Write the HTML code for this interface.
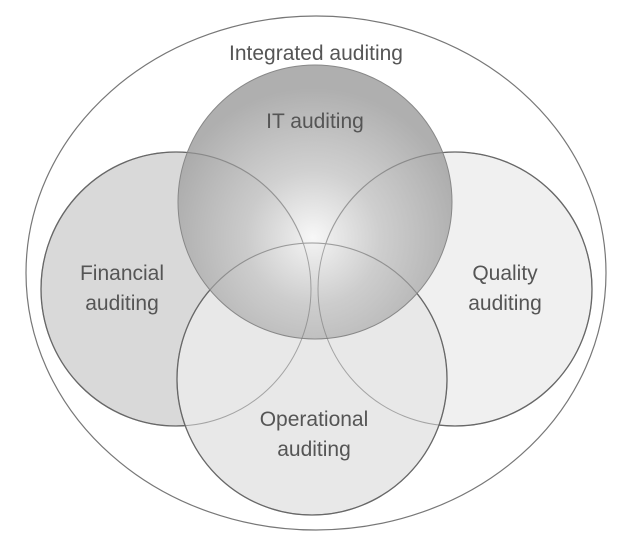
<!DOCTYPE html>
<html><head><style>html,body{margin:0;padding:0;background:#fff;}svg{display:block}</style></head>
<body>
<svg width="621" height="545" viewBox="0 0 621 545" xmlns="http://www.w3.org/2000/svg">
<defs>
<radialGradient id="g" gradientUnits="userSpaceOnUse" cx="313" cy="238" r="150">
<stop offset="0" stop-color="#f6f6f6" stop-opacity="0.85"/>
<stop offset="0.45" stop-color="#c8c8c8" stop-opacity="0.85"/>
<stop offset="1" stop-color="#a6a6a6" stop-opacity="0.9"/>
</radialGradient>
</defs>
<ellipse cx="316" cy="273" rx="290" ry="257" fill="#fff" stroke="#777" stroke-width="1.2"/>
<ellipse cx="176" cy="289" rx="135" ry="137" fill="#d9d9d9" stroke="#555" stroke-width="1.3"/>
<ellipse cx="455" cy="289" rx="137" ry="137" fill="#f0f0f0" stroke="#555" stroke-width="1.3"/>
<ellipse cx="312" cy="379" rx="135" ry="136" fill="#e8e8e8" stroke="#555" stroke-width="1.3"/>
<circle cx="315" cy="202" r="137" fill="url(#g)" stroke="#888" stroke-width="1"/>
<g fill="none" stroke="#777" stroke-width="1" opacity="0.6">
<ellipse cx="176" cy="289" rx="135" ry="137"/>
<ellipse cx="455" cy="289" rx="137" ry="137"/>
<ellipse cx="312" cy="379" rx="135" ry="136"/>
</g>
<g font-family="Liberation Sans, sans-serif" font-size="21" fill="#555" text-anchor="middle">
<text x="316" y="60">Integrated auditing</text>
<text x="315" y="128">IT auditing</text>
<text x="122" y="280">Financial</text>
<text x="122" y="310">auditing</text>
<text x="505" y="280">Quality</text>
<text x="505" y="310">auditing</text>
<text x="314" y="426">Operational</text>
<text x="314" y="456">auditing</text>
</g>
</svg>
</body></html>
